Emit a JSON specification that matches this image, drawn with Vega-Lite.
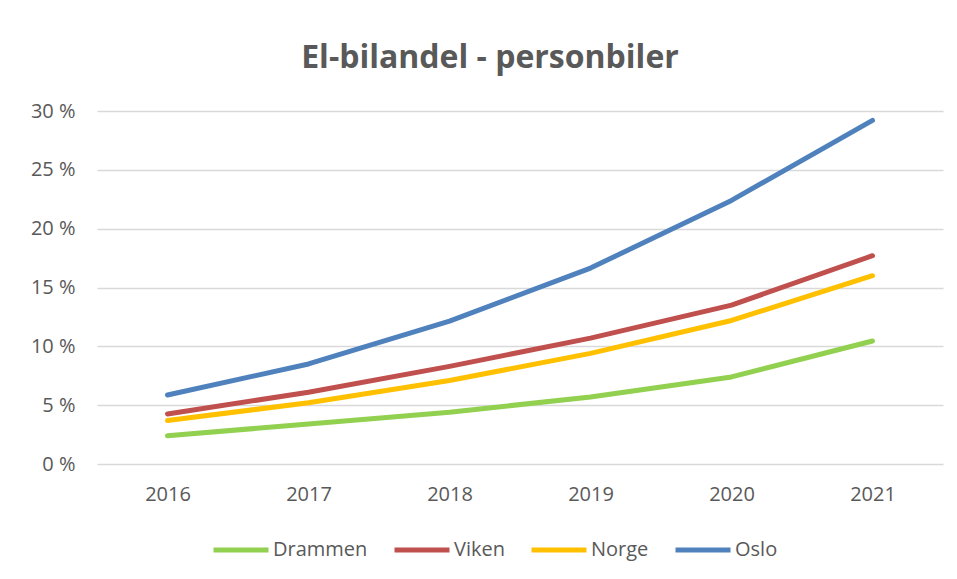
{
  "$schema": "https://vega.github.io/schema/vega-lite/v6.json",
  "width": 846,
  "height": 353,
  "autosize": {"type": "none"},
  "padding": {"left": 97, "top": 111, "right": 14, "bottom": 115},
  "background": "white",
  "title": {"text": "El-bilandel - personbiler", "font": "Open Sans", "fontSize": 32, "fontWeight": "bold", "color": "#595959", "anchor": "middle", "dx": -30, "offset": 26},
  "data": {"values": [
    {"year": "2016", "region": "Drammen", "value": 2.4},
    {"year": "2017", "region": "Drammen", "value": 3.4},
    {"year": "2018", "region": "Drammen", "value": 4.4},
    {"year": "2019", "region": "Drammen", "value": 5.7},
    {"year": "2020", "region": "Drammen", "value": 7.4},
    {"year": "2021", "region": "Drammen", "value": 10.45},
    {"year": "2016", "region": "Viken", "value": 4.25},
    {"year": "2017", "region": "Viken", "value": 6.1},
    {"year": "2018", "region": "Viken", "value": 8.3},
    {"year": "2019", "region": "Viken", "value": 10.7},
    {"year": "2020", "region": "Viken", "value": 13.5},
    {"year": "2021", "region": "Viken", "value": 17.7},
    {"year": "2016", "region": "Norge", "value": 3.7},
    {"year": "2017", "region": "Norge", "value": 5.2},
    {"year": "2018", "region": "Norge", "value": 7.1},
    {"year": "2019", "region": "Norge", "value": 9.4},
    {"year": "2020", "region": "Norge", "value": 12.2},
    {"year": "2021", "region": "Norge", "value": 16.0},
    {"year": "2016", "region": "Oslo", "value": 5.86},
    {"year": "2017", "region": "Oslo", "value": 8.5},
    {"year": "2018", "region": "Oslo", "value": 12.15},
    {"year": "2019", "region": "Oslo", "value": 16.65},
    {"year": "2020", "region": "Oslo", "value": 22.4},
    {"year": "2021", "region": "Oslo", "value": 29.2}
  ]},
  "mark": {"type": "line", "strokeWidth": 5, "strokeCap": "round", "strokeJoin": "round"},
  "encoding": {
    "x": {"field": "year", "type": "ordinal", "scale": {"type": "point", "padding": 0.5},
      "axis": {"title": null, "labelAngle": 0, "ticks": false, "domain": false, "grid": false, "labelPadding": 20, "labelFontSize": 20, "labelFont": "Open Sans", "labelColor": "#595959"}},
    "y": {"field": "value", "type": "quantitative", "scale": {"domain": [0, 30]},
      "axis": {"title": null, "values": [0, 5, 10, 15, 20, 25, 30], "labelExpr": "datum.value + ' %'", "ticks": false, "domain": false, "gridColor": "#D9D9D9", "gridWidth": 1.5, "labelPadding": 22, "labelFontSize": 20, "labelFont": "Open Sans", "labelColor": "#595959"}},
    "color": {"field": "region", "type": "nominal", "sort": ["Drammen", "Viken", "Norge", "Oslo"],
      "scale": {"domain": ["Drammen", "Viken", "Norge", "Oslo"], "range": ["#92D050", "#C0504D", "#FFC000", "#4F81BD"]},
      "legend": {"title": null, "orient": "none", "direction": "horizontal", "legendX": 114, "legendY": 409, "symbolType": "stroke", "symbolSize": 3025, "symbolStrokeWidth": 5, "labelFontSize": 20, "labelFont": "Open Sans", "labelColor": "#595959", "columnPadding": 16, "labelOffset": 2}}
  },
  "config": {"view": {"stroke": null}}
}
